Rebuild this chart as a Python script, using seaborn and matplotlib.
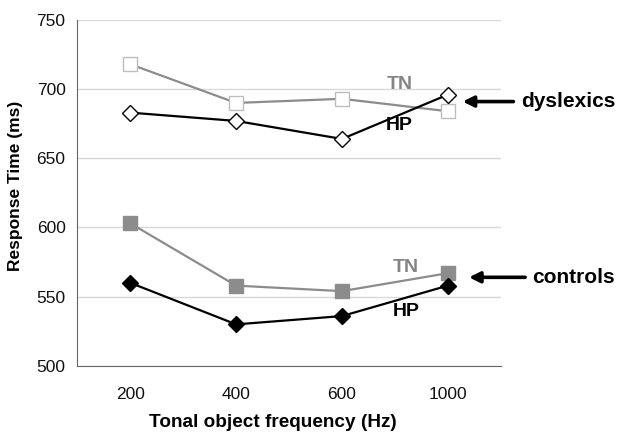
import pandas as pd
import matplotlib.pyplot as plt
import seaborn as sns

# Values
freqs = ["200", "400", "600", "1000"]
dys_tn = [718, 690, 693, 684]
dys_hp = [683, 677, 664, 696]
ctl_tn = [603, 558, 554, 567]
ctl_hp = [560, 530, 536, 558]

sns.set_style("white")
plt.rcParams["font.family"] = ["Liberation Sans", "DejaVu Sans"]

fig = plt.figure(figsize=(6.19, 4.33), dpi=100)
ax = fig.add_axes([0.125, 0.155, 0.684, 0.799])

series = [
    (dys_tn, "#8c8c8c", "s", "white", "#bdbdbd"),
    (dys_hp, "black", "D", "white", "black"),
    (ctl_tn, "#8c8c8c", "s", "#8c8c8c", "#8c8c8c"),
    (ctl_hp, "black", "D", "black", "black"),
]
for vals, lc, mk, mfc, mec in series:
    df = pd.DataFrame({"freq": freqs, "rt": vals})
    sns.lineplot(data=df, x="freq", y="rt", ax=ax, color=lc, linewidth=1.6,
                 marker=mk, markersize=10.5 if mk == "s" else 8,
                 markerfacecolor=mfc, markeredgecolor=mec, markeredgewidth=1.0)

ax.set_xlim(-0.5, 3.5)
ax.set_ylim(500, 750)
ax.set_yticks([500, 550, 600, 650, 700, 750])
ax.yaxis.grid(True, color="#d9d9d9", linewidth=1)
ax.set_axisbelow(True)
ax.set_xticks(range(4))
ax.set_xticklabels(freqs)
ax.set_xticks([-0.5, 0.5, 1.5, 2.5, 3.5], minor=True)
ax.tick_params(axis="x", which="major", length=0, pad=15, labelsize=12.5, labelcolor="#111111")
ax.tick_params(axis="x", which="minor", length=5, color="#666666", direction="out")
ax.tick_params(axis="y", length=5, color="#666666", labelsize=12.5, labelcolor="#111111",
               direction="out")
for s in ["top", "right"]:
    ax.spines[s].set_visible(False)
for s in ["left", "bottom"]:
    ax.spines[s].set_color("#666666")

ax.set_xlabel("Tonal object frequency (Hz)", fontsize=13.7, fontweight="bold", color="black")
ax.xaxis.set_label_coords(0.461, -0.14)
ax.set_ylabel("Response Time (ms)", fontsize=12.5, fontweight="bold", color="black")
ax.yaxis.set_label_coords(-0.128, 0.52)

# Curve labels
ax.text(2.55, 703, "TN", color="#858585", fontsize=14, fontweight="bold", ha="center", va="center")
ax.text(2.54, 674, "HP", color="black", fontsize=14, fontweight="bold", ha="center", va="center")
ax.text(2.60, 571, "TN", color="#858585", fontsize=14, fontweight="bold", ha="center", va="center")
ax.text(2.61, 539, "HP", color="black", fontsize=14, fontweight="bold", ha="center", va="center")

# Group labels with arrows
for label, yv, tip, tail in [("dyslexics", 691, 3.14, 3.69), ("controls", 564, 3.20, 3.80)]:
    ax.annotate(label, xy=(tip, yv), xytext=(tail, yv), annotation_clip=False,
                fontsize=15, fontweight="bold", va="center", ha="left", color="black",
                arrowprops=dict(arrowstyle="-|>", color="black", lw=2.6, mutation_scale=16,
                                shrinkA=3, shrinkB=0))

fig.savefig("out.png", dpi=100)
